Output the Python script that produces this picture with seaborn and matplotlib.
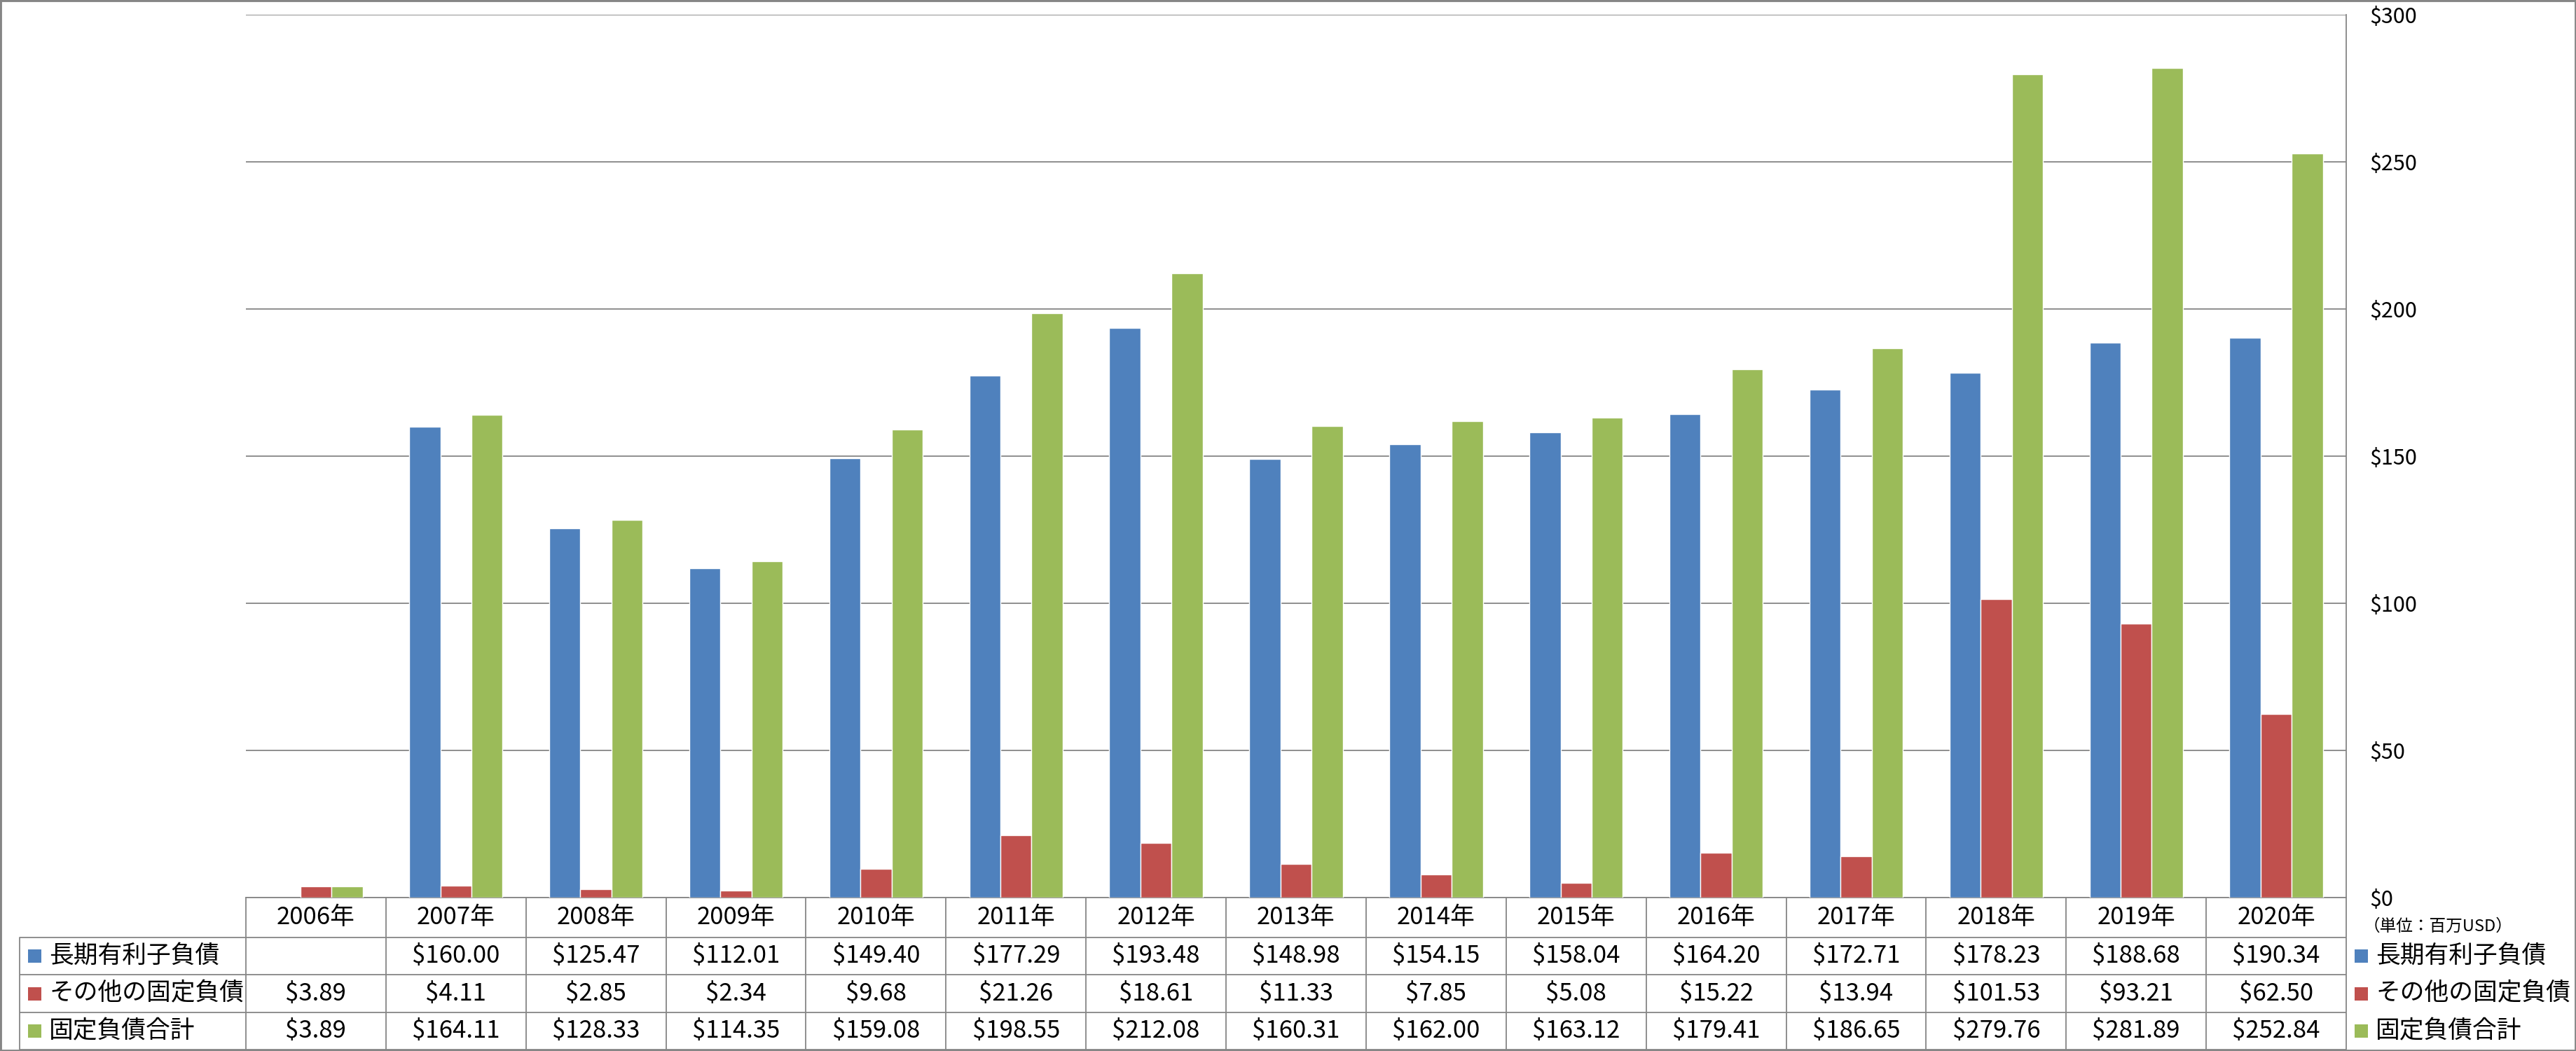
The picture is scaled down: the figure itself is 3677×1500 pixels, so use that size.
import numpy as np
import pandas as pd
import matplotlib
matplotlib.use("Agg")
import matplotlib.pyplot as plt
from matplotlib.patches import Rectangle
import seaborn as sns

# ---- data ----
years = ["2006年", "2007年", "2008年", "2009年", "2010年", "2011年", "2012年", "2013年",
         "2014年", "2015年", "2016年", "2017年", "2018年", "2019年", "2020年"]
series_names = ["長期有利子負債", "その他の固定負債", "固定負債合計"]
long_term_debt = [np.nan, 160.00, 125.47, 112.01, 149.40, 177.29, 193.48, 148.98,
                  154.15, 158.04, 164.20, 172.71, 178.23, 188.68, 190.34]
other_fixed = [3.89, 4.11, 2.85, 2.34, 9.68, 21.26, 18.61, 11.33,
               7.85, 5.08, 15.22, 13.94, 101.53, 93.21, 62.50]
total_fixed = [3.89, 164.11, 128.33, 114.35, 159.08, 198.55, 212.08, 160.31,
               162.00, 163.12, 179.41, 186.65, 279.76, 281.89, 252.84]
y_ticks = [0, 50, 100, 150, 200, 250, 300]
unit_label = "（単位：百万USD）"

colors = ["#4F81BD", "#C0504D", "#9BBB59"]
series_values = [long_term_debt, other_fixed, total_fixed]

df = pd.DataFrame({
    "year": years * 3,
    "series": [s for s in series_names for _ in years],
    "value": long_term_debt + other_fixed + total_fixed,
})

sns.set_theme(style="white")
plt.rcParams["font.family"] = ["Noto Sans CJK JP", "DejaVu Sans"]

W, H = 3677, 1500
fig = plt.figure(figsize=(W / 100, H / 100), dpi=100)
fig.patch.set_facecolor("white")

L, R, T, B = 351, 3349, 21, 1281
ax = fig.add_axes([L / W, (H - B) / H, (R - L) / W, (B - T) / H])

sns.barplot(data=df, x="year", y="value", hue="series", order=years,
            hue_order=series_names, palette=colors, width=0.667, gap=0,
            errorbar=None, legend=False, saturation=1, ax=ax, zorder=3)

grid_c = "#868686"
fam = ["Noto Sans CJK JP", "DejaVu Sans"]
ax.set_xlim(-0.5, len(years) - 0.5)
ax.set_ylim(0, 300)
ax.set_yticks(y_ticks)
ax.set_yticklabels([f"${v}" for v in y_ticks], fontsize=22, family=fam)
ax.yaxis.tick_right()
ax.tick_params(axis="y", length=0, pad=24, colors="black")
ax.set_xticks([])
ax.set_xlabel("")
ax.set_ylabel("")
ax.grid(axis="y", color=grid_c, lw=1.3, zorder=0)
ax.set_axisbelow(True)
for s in ["left", "top"]:
    ax.spines[s].set_visible(False)
for s in ["right", "bottom"]:
    ax.spines[s].set_visible(True)
    ax.spines[s].set_color(grid_c)
    ax.spines[s].set_linewidth(1.3)

# ---- overlay in pixel coordinates for data table and legend ----
ov = fig.add_axes([0, 0, 1, 1])
ov.set_xlim(0, W)
ov.set_ylim(H, 0)
ov.axis("off")
ov.patch.set_alpha(0)

n = len(years)
colw = (R - L) / n
row_edges = [1281, 1338, 1391, 1445, 1498]
tab_left = 28
lw = 1.3
for y in row_edges[1:]:
    ov.plot([tab_left, R], [y, y], color=grid_c, lw=lw, solid_capstyle="butt")
ov.plot([tab_left, tab_left], [row_edges[1], row_edges[-1]], color=grid_c, lw=lw)
for k in range(n + 1):
    x = L + k * colw
    ov.plot([x, x], [row_edges[0], row_edges[-1]], color=grid_c, lw=lw)

fs = 25
hdr_y = (row_edges[0] + row_edges[1]) / 2
for i, yr in enumerate(years):
    ov.text(L + (i + 0.5) * colw, hdr_y, yr, ha="center", va="center",
            fontsize=fs, family=fam, color="black")

for r, (name, vals, c) in enumerate(zip(series_names, series_values, colors)):
    yc = (row_edges[r + 1] + row_edges[r + 2]) / 2
    ov.add_patch(Rectangle((40, yc - 9.5), 19, 19, color=c, lw=0))
    ov.text(70, yc, name, ha="left", va="center", fontsize=fs, family=fam, color="black")
    for i, v in enumerate(vals):
        if not np.isnan(v):
            ov.text(L + (i + 0.5) * colw, yc, f"${v:,.2f}", ha="center", va="center",
                    fontsize=fs, family=fam, color="black")
    ov.add_patch(Rectangle((3361, yc - 9.5), 19, 19, color=c, lw=0))
    ov.text(3391, yc, name, ha="left", va="center", fontsize=fs, family=fam, color="black")

unit_t = ov.text(3374, 1322, unit_label, ha="left", va="center", fontsize=18,
                 family=fam, color="black")
# fit unit label to the width seen in the reference (~213 px)
fig.canvas.draw()
bw = unit_t.get_window_extent(renderer=fig.canvas.get_renderer()).width
if bw > 0:
    unit_t.set_fontsize(min(24, 18 * 213 / bw))

# figure border
ov.add_patch(Rectangle((0, 0), W, H, fill=False, edgecolor=grid_c, lw=3.5, clip_on=False))

fig.savefig("out.png", dpi=100, facecolor="white")
